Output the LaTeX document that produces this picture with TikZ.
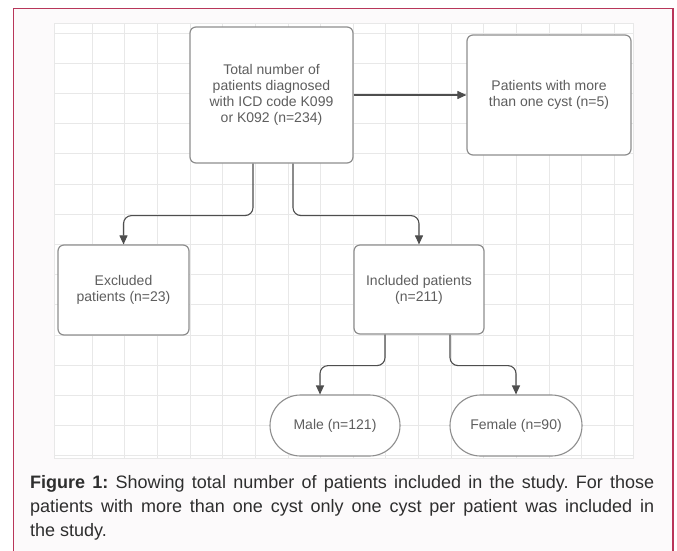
\documentclass[tikz,border=0pt]{standalone}
\usepackage{fontspec}
\setmainfont{Liberation Sans}
\usetikzlibrary{arrows.meta,shapes.misc}

\definecolor{framered}{HTML}{B8365A}
\definecolor{panelbg}{HTML}{FCFAFB}
\definecolor{gridgray}{HTML}{E8E8E8}
\definecolor{boxline}{HTML}{8E8E8E}
\definecolor{boxtext}{HTML}{5E5E5E}
\definecolor{arrowgray}{HTML}{4E4E4E}
\definecolor{captiontext}{HTML}{2E2E2E}

\begin{document}
\frenchspacing
\begin{tikzpicture}[
        x=1pt, y=-1pt,
        box/.style={
            rectangle,
            rounded corners=6pt,
            draw=boxline,
            line width=1.2pt,
            fill=white,
            align=center,
            inner sep=0pt,
            text=boxtext,
            font=\fontsize{14}{16}\selectfont
        },
        pill/.style={
            rounded rectangle,
            draw=boxline,
            line width=1.1pt,
            fill=white,
            align=center,
            inner sep=0pt,
            minimum height=61pt,
            text=boxtext,
            font=\fontsize{14}{16}\selectfont
        },
        caption/.style={
            text width=624pt,
            align=justify,
            inner sep=0pt,
            text=captiontext,
            font=\fontsize{18}{24}\selectfont
        },
        arrow/.style={-{Triangle[length=9pt,width=8pt]}, line width=1.1pt, draw=arrowgray, rounded corners=8pt}
    ]
    \useasboundingbox (0,0) rectangle (677,550);

    % Frame and grid
    \draw[framered, line width=1.5pt, fill=panelbg] (13.5,8.5) rectangle (673,600);
    \draw[gridgray, fill=white] (54,23) rectangle (633,458);
    \foreach \gx in {92,124.65,...,620}
        \draw[gridgray, line width=0.8pt] (\gx,23) -- (\gx,458);
    \foreach \gy in {33,63.2,...,457}
        \draw[gridgray, line width=0.8pt] (54,\gy) -- (633,\gy);

    % Nodes at fixed coordinates
    \node[box, minimum width=163pt, minimum height=136pt] (total) at (271.5,95) {Total number of\\patients diagnosed\\with ICD code K099\\or K092 (n=234)};
    \node[box, minimum width=164pt, minimum height=120pt] (more) at (549,95) {Patients with more\\than one cyst (n=5)};

    \node[box, minimum width=131pt, minimum height=90pt] (excl) at (123.5,290) {Excluded\\patients (n=23)};
    \node[box, minimum width=130pt, minimum height=89pt] (incl) at (419,289.5) {Included patients\\(n=211)};

    \node[pill, minimum width=130pt] (male) at (335,425.5) {Male (n=121)};
    \node[pill, minimum width=132pt] (female) at (516,425.5) {Female (n=90)};

    % Connections
    \draw[arrow] (total.east) -- (more.west);
    \draw[arrow] ([xshift=-18.5pt]total.south) -- ++(0,52) -| (excl.north);
    \draw[arrow] ([xshift=21.5pt]total.south) -- ++(0,52) -| (incl.north);
    \draw[arrow] ([xshift=-34pt]incl.south) -- ++(0,31) -| ([xshift=-15pt]male.north);
    \draw[arrow] ([xshift=31pt]incl.south) -- ++(0,31) -| (female.north);

    % Caption
    \node[caption, anchor=north west] (cap) at (30,475) {\textbf{Figure 1:} Showing total number of patients included in the study. For those\linebreak patients with more than one cyst only one cyst per patient was included in\linebreak the study.};
\end{tikzpicture}
\end{document}
